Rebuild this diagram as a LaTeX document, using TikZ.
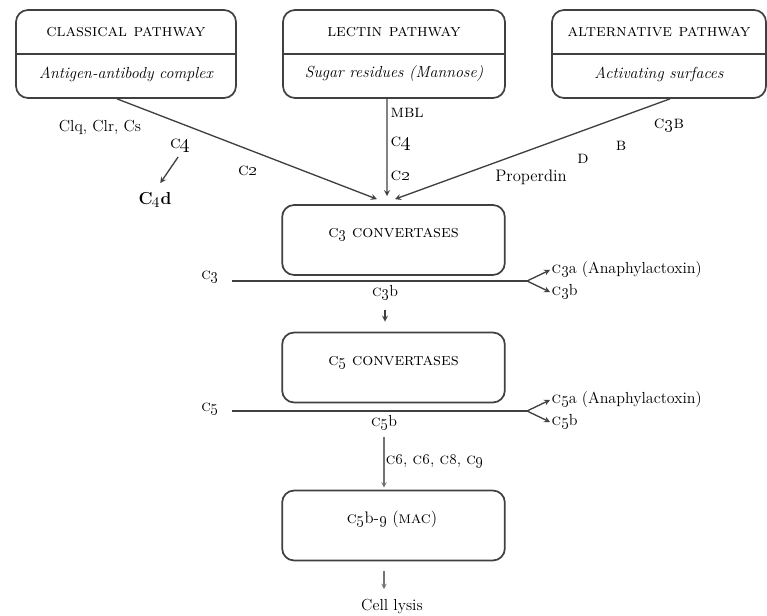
\documentclass[tikz,border=0pt]{standalone}
\usepackage{tikz}
\usetikzlibrary{arrows, positioning, calc}

\newcommand{\cmp}[1]{\textsc{c}\oldstylenums{#1}}

\begin{document}
\begin{tikzpicture}[
    x=0.75pt, y=-0.75pt,
    pathbox/.style={rectangle, draw=black!75, line width=1.3pt, rounded corners=9pt, minimum width=165pt, minimum height=66pt},
    convbox/.style={rectangle, draw=black!75, line width=1.3pt, rounded corners=9pt, minimum width=167pt, minimum height=52.5pt},
    title/.style={font=\fontsize{13}{15}\selectfont},
    source/.style={font=\fontsize{12}{14}\selectfont\itshape},
    lbl/.style={font=\fontsize{12}{14}\selectfont, inner sep=1pt},
    sclbl/.style={font=\fontsize{13.5}{15}\selectfont, inner sep=1pt},
    arrow/.style={->, >=stealth, line width=1pt, draw=black!75},
    flow/.style={line width=1.5pt, draw=black!75}
]
    \useasboundingbox (0,0) rectangle (767,616);

    % the three pathways
    \node[pathbox] (classical) at (126,54) {};
    \node[pathbox, minimum width=166.5pt] (lectin) at (394,54) {};
    \node[pathbox, minimum width=160.5pt] (alternative) at (659,54) {};
    \foreach \p in {classical, lectin, alternative}
        \draw[line width=1.3pt, black!75] (\p.west) -- (\p.east);

    \node[title] (classicalTitle) at (126,32) {\textsc{classical pathway}};
    \node[source] (classicalSrc) at (126,74) {Antigen-antibody complex};
    \node[title] (lectinTitle) at (394,32) {\textsc{lectin pathway}};
    \node[source] (lectinSrc) at (394,74) {Sugar residues (Mannose)};
    \node[title] (alternativeTitle) at (659,32) {\textsc{alternative pathway}};
    \node[source] (alternativeSrc) at (659,74) {Activating surfaces};

    % convertases and MAC
    \node[convbox] (c3conv) at (393.5,240) {};
    \node[title] (c3convText) at (393.5,234) {\cmp{3} \textsc{convertases}};
    \node[convbox] (c5conv) at (393.5,367.5) {};
    \node[title] (c5convText) at (393.5,362) {\cmp{5} \textsc{convertases}};
    \node[convbox] (mac) at (393.5,525.5) {};
    \node[title, font=\fontsize{12.5}{14}\selectfont] (macText) at (392,519) {\cmp{5}b-\oldstylenums{9} (\textsc{mac})};

    % classical labels
    \node[lbl] (clq) at (100,127) {Clq, Clr, Cs};
    \node[sclbl] (c4) at (180,146) {\cmp{4}};
    \node[lbl, font=\fontsize{13}{15}\selectfont\bfseries] (c4d) at (155,200) {C\oldstylenums{4}d};
    \node[sclbl] (c2) at (248,171) {\cmp{2}};
    \draw[arrow, shorten <=2.5pt, shorten >=7pt] (c4.south) -- (c4d.north);

    % lectin labels
    \node[sclbl, anchor=west] (mbl) at (389,113) {\textsc{mbl}};
    \node[sclbl, anchor=west] (lc4) at (389,144) {\cmp{4}};
    \node[sclbl, anchor=west] (lc2) at (389,176) {\cmp{2}};

    % alternative labels
    \node[sclbl] (c3B) at (669,126) {\textsc{c\oldstylenums{3}b}};
    \node[sclbl] (fB) at (621,146) {\textsc{b}};
    \node[sclbl] (fD) at (583,159) {\textsc{d}};
    \node[lbl, font=\fontsize{12.5}{14}\selectfont] (properdin) at (531,177) {Properdin};

    \draw[arrow] ([xshift=-6.75pt]classical.south) -- ([xshift=-12.4pt, yshift=3.75pt]c3conv.north);
    \draw[arrow] ([xshift=-5.25pt]lectin.south) -- ([xshift=-4.9pt, yshift=6pt]c3conv.north);
    \draw[arrow] ([xshift=8.25pt]alternative.south) -- ([xshift=1.1pt, yshift=3.75pt]c3conv.north);

    % C3 cleavage
    \node[lbl] (c3in) at (210,277) {\cmp{3}};
    \coordinate (fork3) at (527,281);
    \node[lbl, anchor=west] (c3a) at (550,270) {\cmp{3}a (Anaphylactoxin)};
    \node[lbl, anchor=west] (c3bOut) at (550,292) {\cmp{3}b};
    \node[lbl] (c3bMid) at (385,293) {\cmp{3}b};
    \draw[flow] ([xshift=9pt]c3in.east |- fork3) -- (fork3);
    \draw[arrow] (fork3) -- (c3a.west);
    \draw[arrow] (fork3) -- (c3bOut.west);
    \draw[arrow, shorten <=6pt, shorten >=7.5pt] (c3bMid.south) -- (c3bMid.south |- c5conv.north);

    % C5 cleavage
    \node[lbl] (c5in) at (210,409) {\cmp{5}};
    \coordinate (fork5) at (527,411);
    \node[lbl, anchor=west] (c5a) at (550,400) {\cmp{5}a (Anaphylactoxin)};
    \node[lbl, anchor=west] (c5bOut) at (550,422) {\cmp{5}b};
    \node[lbl] (c5bMid) at (384,423) {\cmp{5}b};
    \draw[flow] ([xshift=9pt]c5in.east |- fork5) -- (fork5);
    \draw[arrow] (fork5) -- (c5a.west);
    \draw[arrow] (fork5) -- (c5bOut.west);
    \draw[arrow, line width=0.8pt, black!55, shorten <=4pt, shorten >=1.5pt] (c5bMid.south) -- (c5bMid.south |- mac.north)
        node[midway, right, lbl, text=black] {\cmp{6}, \cmp{6}, \cmp{8}, \cmp{9}};

    % lysis
    \node[lbl] (lysis) at (392,606) {Cell lysis};
    \draw[arrow, line width=0.8pt, black!55, shorten <=7.5pt, shorten >=6pt] (mac.south -| c5bMid) -- (lysis.north -| c5bMid);
\end{tikzpicture}
\end{document}
